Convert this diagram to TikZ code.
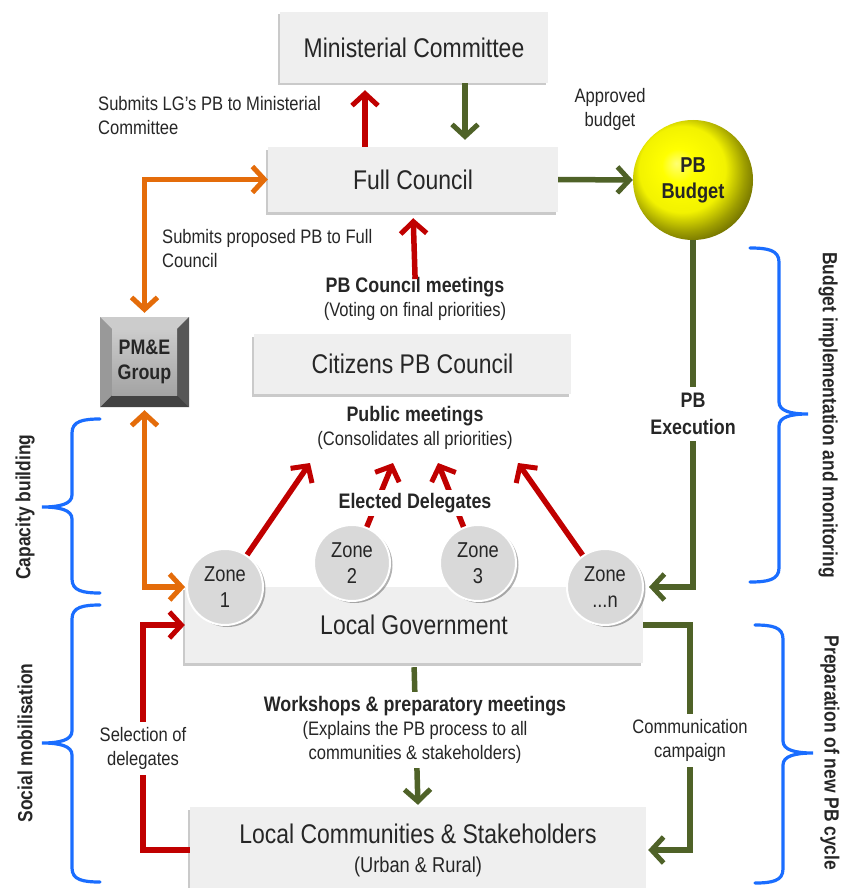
\documentclass[tikz,border=0pt]{standalone}
\usepackage{fontspec}
\setmainfont{Liberation Sans}[FakeStretch=0.85]
\usetikzlibrary{arrows.meta,shadows}

\definecolor{boxfill}{HTML}{EFEFEF}
\definecolor{txt}{HTML}{262626}
\definecolor{flowred}{HTML}{C00000}
\definecolor{floworange}{HTML}{E46C0A}
\definecolor{flowgreen}{HTML}{4F6228}
\definecolor{braceblue}{HTML}{1A6DFF}
\definecolor{zonefill}{HTML}{D9D9D9}

% glossy yellow sphere for the budget
\pgfdeclareradialshading{budgetball}{\pgfpoint{-7bp}{7bp}}{%
  color(0bp)=(yellow!55!white); color(7bp)=(yellow); color(18bp)=(yellow!95!black);
  color(25bp)=(yellow!62!black); color(31bp)=(yellow!38!black); color(50bp)=(black)}

% curly bracket: end x, spine x, tip x, top y, middle y, bottom y
\newcommand\sidebrace[6]{%
  \draw[bracestroke] (#1,#4) .. controls ({0.4*#1+0.6*#2},#4) and (#2,{#4+2}) .. (#2,{#4+14})
    -- (#2,{#5-12}) .. controls (#2,{#5-3}) and ({0.6*#2+0.4*#3},#5) .. (#3,#5)
    .. controls ({0.6*#2+0.4*#3},#5) and (#2,{#5+3}) .. (#2,{#5+12})
    -- (#2,{#6-14}) .. controls (#2,{#6-2}) and ({0.4*#1+0.6*#2},#6) .. (#1,#6);}

\begin{document}
\begin{tikzpicture}[x=1pt,y=-1pt,
  box/.style={rectangle, fill=boxfill, inner sep=0pt, text=txt,
    font=\fontsize{27}{31}\selectfont,
    drop shadow={shadow xshift=-2.5pt, shadow yshift=-2.5pt, opacity=0.35, fill=black!60}},
  zone/.style={circle, minimum size=76, inner sep=0pt, fill=zonefill, draw=white,
    line width=2pt, text=txt, align=center, font=\fontsize{21.5}{26}\selectfont,
    drop shadow={shadow xshift=2.5pt, shadow yshift=-2pt, opacity=0.3, fill=black}},
  lbl/.style={text=txt, inner sep=2pt, font=\fontsize{19.5}{24}\selectfont},
  gap/.style={fill=white, inner sep=5pt},
  sidelbl/.style={text=txt, inner sep=0pt, font=\bfseries\fontsize{20.5}{24}\selectfont},
  barb/.tip={Straight Barb[length=12pt,width=26pt,line width=5pt]},
  flow/.style={line width=5.5pt, -barb},
  flowboth/.style={line width=5.5pt, barb-barb},
  bracestroke/.style={draw=braceblue, line width=3.2pt, line cap=round},
  pmebtn/.style={minimum width=89, minimum height=90, inner sep=0pt, fill=black!45,
    text=txt, align=center, font=\bfseries\fontsize{21}{25}\selectfont,
    path picture={
      \path (path picture bounding box.north west) coordinate (bA)
            (path picture bounding box.north east) coordinate (bB)
            (path picture bounding box.south east) coordinate (bC)
            (path picture bounding box.south west) coordinate (bD);
      \path ([xshift=12pt,yshift=-12pt]bA) coordinate (iA)
            ([xshift=-12pt,yshift=-12pt]bB) coordinate (iB)
            ([xshift=-12pt,yshift=12pt]bC) coordinate (iC)
            ([xshift=12pt,yshift=12pt]bD) coordinate (iD);
      \fill[black!20] (bA) -- (bB) -- (iB) -- (iA) -- cycle;
      \fill[black!66] (bB) -- (bC) -- (iC) -- (iB) -- cycle;
      \fill[black!74] (bC) -- (bD) -- (iD) -- (iC) -- cycle;
      \fill[black!40] (bD) -- (bA) -- (iA) -- (iD) -- cycle;
      \shade[top color=black!20, bottom color=black!36] (iA) rectangle (iC);
    }},
]
\useasboundingbox (0,0) rectangle (840,888);

% ---------- main boxes ----------
\node[box, minimum width=268, minimum height=71] (mc) at (414,47.5) {Ministerial Committee};
\node[box, minimum width=290, minimum height=65] (fc) at (413,179.5) {Full Council};
\node[box, minimum width=317, minimum height=60] (cpc) at (412.5,364) {Citizens PB Council};
\node[box, minimum width=458, minimum height=76] (lg) at (414,625) {Local Government};
\node[box, minimum width=456, minimum height=86, align=center] (lc) at (418,850)
  {Local Communities \& Stakeholders\\[-2pt]{\fontsize{21.5}{24}\selectfont (Urban \& Rural)}};

% ---------- budget sphere and PM&E group ----------
\node[circle, minimum size=120, inner sep=0pt, shade, shading=budgetball, text=txt,
  align=center, font=\bfseries\fontsize{21.5}{26}\selectfont] (budget) at (693,180) {PB\\Budget};
\node[pmebtn] (pme) at (144.5,362) {PM\&E\\Group};

% ---------- zones ----------
\node[zone] (z1) at (225,587) {Zone\\1};
\node[zone] (z2) at (352,563) {Zone\\2};
\node[zone] (z3) at (478,563) {Zone\\3};
\node[zone] (zn) at (605,587) {Zone\\...n};

% ---------- plain labels ----------
\node[lbl, anchor=west, align=left] (sublg) at (96,116) {Submits LG’s PB to Ministerial\\Committee};
\node[lbl, anchor=west, align=left] (subfc) at (160,248.5) {Submits proposed PB to Full\\Council};
\node[lbl, align=center] (appr) at (610,109) {Approved\\budget};
\node[lbl, align=center] (pbcm) at (415,299)
  {{\bfseries\fontsize{21}{24}\selectfont PB Council meetings}\\(Voting on final priorities)};
\node[lbl, align=center] (pubm) at (415,427.5)
  {{\bfseries\fontsize{21}{24}\selectfont Public meetings}\\(Consolidates all priorities)};

% ---------- connectors ----------
\coordinate (xa) at (365,0);
\coordinate (xb) at (465,0);
\coordinate (xs) at (143,0);
\coordinate (xc) at (690,0);
\coordinate (t1) at (310,463);
\coordinate (t2) at (393,463);
\coordinate (t3) at (438,463);
\coordinate (t4) at (518,463);

\draw[flow, flowred, shorten >=7pt] (xa |- fc.north) -- (xa |- mc.south);
\draw[flow, flowgreen, shorten >=7pt] (xb |- mc.south) -- (xb |- fc.north);
\draw[flow, flowgreen] (fc.east) -- (budget.west);
\draw[flow, flowred, shorten >=6pt, shorten <=-4pt] (pbcm.north) -- (fc.south);
\draw[flowboth, floworange, shorten <=4pt] (pme.north) |- (fc.west);
\draw[flowboth, floworange, shorten <=3pt, shorten >=1pt] (pme.south) |- (z1.west);

\draw[flow, flowred] (z1) -- (t1);
\draw[flow, flowred] (z2) -- (t2);
\draw[flow, flowred] (z3) -- (t3);
\draw[flow, flowred] (zn) -- (t4);

\draw[flow, flowgreen, shorten >=5pt] (budget.south) |- (zn.east);
\draw[flow, flowgreen, shorten <=4pt, shorten >=2pt] (lg.south) -- (lc.north);
\draw[flow, flowred] (lc.west) -- (xs |- lc.west) |- (lg.west);
\draw[flow, flowgreen, shorten >=2pt] (lg.east) -- (xc |- lg.east) |- (lc.east);

% ---------- labels sitting on connectors ----------
\node[lbl, gap, inner sep=3pt, font=\bfseries\fontsize{21}{24}\selectfont] (elect) at (415,503) {Elected Delegates};
\node[lbl, gap, align=center, inner sep=6pt, font=\bfseries\fontsize{21}{27}\selectfont] (exec) at (693,414) {PB\\Execution};
\node[lbl, gap, align=center, inner sep=4pt] (work) at (415,730)
  {{\bfseries\fontsize{21}{24}\selectfont Workshops \& preparatory meetings}\\(Explains the PB process to all\\communities \& stakeholders)};
\node[lbl, gap, align=center] (sel) at (143,748.5) {Selection of\\delegates};
\node[lbl, gap, align=center] (comm) at (690,740.5) {Communication\\campaign};

% ---------- side brackets ----------
\sidebrace{100}{72}{42}{419}{507}{593}
\sidebrace{100}{72}{42}{605}{743}{882}
\sidebrace{750}{779}{808}{248}{414}{582}
\sidebrace{755}{783}{813}{625}{753}{883}

\node[sidelbl, rotate=90] (capb) at (25,507) {Capacity building};
\node[sidelbl, rotate=90] (socm) at (25,743) {Social mobilisation};
\node[sidelbl, rotate=-90] (bimp) at (828,415) {Budget implementation and monitoring};
\node[sidelbl, rotate=-90] (prep) at (830,753) {Preparation of new PB cycle};
\end{tikzpicture}
\end{document}
